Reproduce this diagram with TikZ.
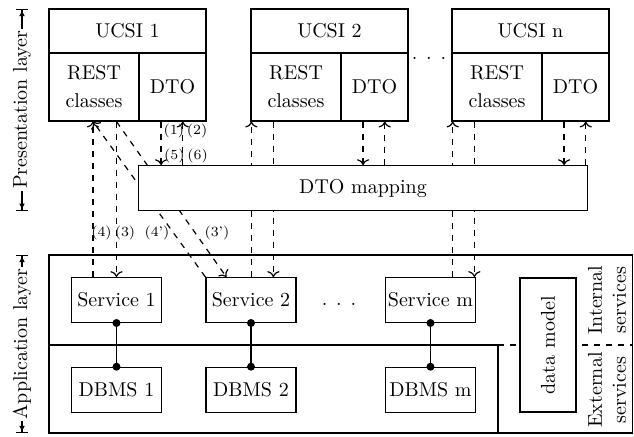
\documentclass[tikz,border=0pt]{standalone}
\usetikzlibrary{arrows.meta}
\pgfdeclarelayer{bg}
\pgfsetlayers{bg,main}
\begin{document}
\begin{tikzpicture}[x=0.5pt,y=-0.5pt,
  box/.style={draw,semithick,fill=white,inner sep=1pt,align=center},
  conn/.style={semithick,dashed,->},
  plainconn/.style={semithick,dashed},
  lbl/.style={font=\scriptsize,inner sep=0.5pt},
  layer/.style={semithick,{Bar[width=6pt]Latex[length=3pt,width=3pt]}-{Latex[length=3pt,width=3pt]Bar[width=6pt]}},
  titlebox/.style={box,minimum width=78.5pt,minimum height=22pt},
  restbox/.style={box,minimum width=45pt,minimum height=34pt},
  dtobox/.style={box,minimum width=33.5pt,minimum height=34pt},
  svcbox/.style={box,minimum width=45pt,minimum height=22.4pt},
  dot/.style={circle,fill,inner sep=0pt,minimum size=4pt}
]
\useasboundingbox (0,0) rectangle (634,436);

% presentation layer
\node[titlebox] (t1) at (127.5,31) {UCSI 1};
\node[restbox] (r1) at (94,87) {REST\\[2pt]classes};
\node[dtobox] (d1) at (172.5,87) {DTO};
\node[titlebox] (t2) at (329.5,31) {UCSI 2};
\node[restbox] (r2) at (296,87) {REST\\[2pt]classes};
\node[dtobox] (d2) at (374.5,87) {DTO};
\node[titlebox] (tn) at (530.5,31) {UCSI n};
\node[restbox] (rn) at (497,87) {REST\\[2pt]classes};
\node[dtobox] (dn) at (575.5,87) {DTO};
\node[anchor=base,inner sep=0pt] (dotsA) at (429,59) {. . .};

\node[box,minimum width=224.7pt,minimum height=22.5pt] (map) at (363,188.2) {DTO mapping};

% application layer
\draw[semithick] (49,255) rectangle (632.5,433);
\node[svcbox] (s1) at (116.5,300) {Service 1};
\node[svcbox] (s2) at (251,300) {Service 2};
\node[svcbox] (sm) at (430.5,300) {Service m};
\node[svcbox] (b1) at (116.5,389.7) {DBMS 1};
\node[svcbox] (b2) at (251,389.7) {DBMS 2};
\node[svcbox] (bm) at (430.5,389.7) {DBMS m};
\node[anchor=base,inner sep=0pt] (dotsB) at (339,305) {. . .};
\node[box,minimum width=67pt,minimum height=28pt,rotate=90] (dm) at (548,345) {data model};
\node[align=center,rotate=90,inner sep=0pt] (int) at (607,300) {Internal\\services};
\node[align=center,rotate=90,inner sep=0pt] (ext) at (607,390) {External\\services};

% db links
\foreach \s/\b in {s1/b1,s2/b2,sm/bm}{
  \draw[semithick] (\s.south) -- (\b.north);
  \node[dot] at (\s.south) {};
  \node[dot] at (\b.north) {};
}

% coordinates for connectors
\coordinate (x4) at ([xshift=-11.75pt]s1.north);
\coordinate (x3p) at ([xshift=10.5pt]s2.north west);
\coordinate (u2) at ([xshift=0.5pt]r2.south west);
\coordinate (v2) at ([xshift=11.5pt]r2.south west);
\coordinate (un) at ([xshift=0.65pt]rn.south west);
\coordinate (vn) at ([xshift=11.5pt]rn.south west);

\begin{pgfonlayer}{bg}
  % UCSI 1
  \draw[conn] (x4) -- (x4 |- r1.south);
  \draw[conn] (s1.north |- r1.south) -- (s1.north);
  \draw[conn] (s2.north west) -- (x4 |- r1.south);
  \draw[conn] (s1.north |- r1.south) -- (x3p);
  % UCSI 2
  \draw[conn] (u2 |- s2.north) -- (u2);
  \draw[conn] (v2) -- (v2 |- s2.north);
  % UCSI n
  \draw[conn] (un |- sm.north) -- (un);
  \draw[conn] (vn) -- (vn |- sm.north);
  % DTO links
  \foreach \d in {d1,d2,dn}{
    \draw[conn] ([xshift=11.35pt]\d.south west) -- ([xshift=11.35pt]\d.south west |- map.north);
    \draw[conn] ([xshift=22.2pt]\d.south west |- map.north) -- ([xshift=22.2pt]\d.south west);
  }
  % layer separators
  \draw[semithick] (49,345) -- (498,345) -- (498,433);
  \draw[plainconn] (498,345) -- (632.5,345);
\end{pgfonlayer}
\draw[line width=1.2pt] (498,433) -- (565,433);

% labels
\node[lbl,anchor=west] (l1) at (162.2,131) {(1)};
\node[lbl,anchor=west] (l2) at (185.5,131) {(2)};
\node[lbl,anchor=west] (l5) at (162.8,156) {(5)};
\node[lbl,anchor=west] (l6) at (186,156) {(6)};
\node[lbl] (l4) at (101.5,233) {(4)};
\node[lbl] (l3) at (125,233) {(3)};
\node[lbl] (l4p) at (157,233) {(4')};
\node[lbl] (l3p) at (217,233) {(3')};

% layer arrows
\draw[layer] (22,9) -- (22,210.7) node[midway,rotate=90,fill=white,inner sep=1pt] (pl) {Presentation layer};
\draw[layer] (22,255) -- (22,433) node[midway,rotate=90,fill=white,inner sep=1pt] (al) {Application layer};
\end{tikzpicture}
\end{document}
